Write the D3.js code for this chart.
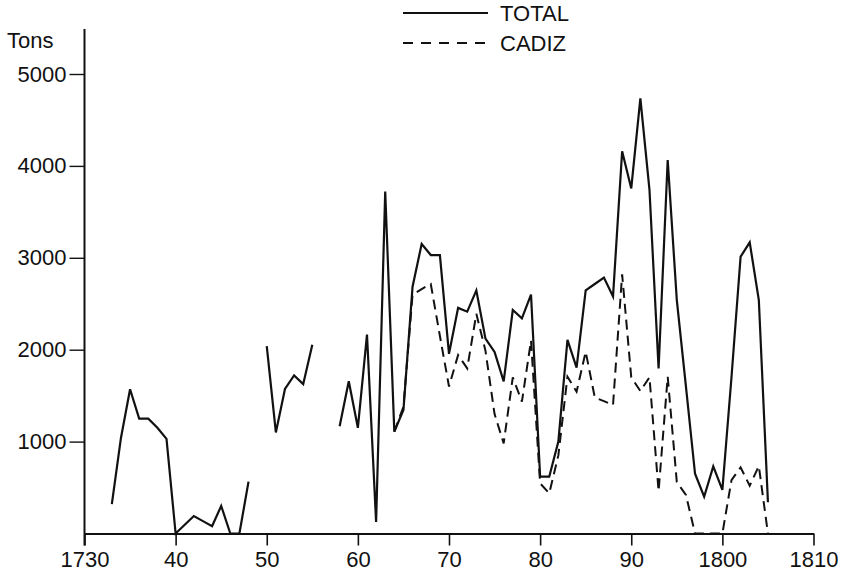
<!DOCTYPE html>
<html>
<head>
<meta charset="utf-8">
<script src="https://cdn.jsdelivr.net/npm/d3@7"></script>
<style>
	html, body { margin: 0; padding: 0; background: #fff; }
	svg text { font-family: 'Liberation Sans', Arial, sans-serif; fill: #111; }
</style>
</head>
<body>
<div id="chart"></div>
<script>
'use strict';

var years = [1733, 1734, 1735, 1736, 1737, 1738, 1739, 1740, 1741, 1742, 1743, 1744, 1745, 1746, 1747, 1748, 1749,
	1750, 1751, 1752, 1753, 1754, 1755, 1756, 1757, 1758, 1759, 1760, 1761, 1762, 1763, 1764, 1765, 1766, 1767, 1768, 1769,
	1770, 1771, 1772, 1773, 1774, 1775, 1776, 1777, 1778, 1779, 1780, 1781, 1782, 1783, 1784, 1785, 1786, 1787, 1788, 1789,
	1790, 1791, 1792, 1793, 1794, 1795, 1796, 1797, 1798, 1799, 1800, 1801, 1802, 1803, 1804, 1805];

// null = no data (gap in the line)
var total = [320, 1040, 1570, 1250, 1250, 1150, 1030, 0, 95, 190, 135, 80, 300, 0, 0, 565, null,
	2040, 1100, 1573, 1720, 1625, 2054, null, null, 1168, 1656, 1150, 2165, 125, 3720, 1108, 1344, 2686, 3150, 3030, 3030,
	1955, 2455, 2414, 2645, 2120, 1975, 1655, 2432, 2342, 2600, 618, 618, 1000, 2106, 1805, 2645, 2715, 2785, 2580, 4160,
	3755, 4735, 3740, 1795, 4064, 2540, 1600, 650, 400, 730, 475, 1700, 3012, 3168, 2540, 340];

var cadizYears = [1764, 1765, 1766, 1767, 1768, 1769, 1770, 1771, 1772, 1773, 1774, 1775, 1776, 1777, 1778, 1779,
	1780, 1781, 1782, 1783, 1784, 1785, 1786, 1787, 1788, 1789, 1790, 1791, 1792, 1793, 1794, 1795, 1796, 1797, 1798, 1799,
	1800, 1801, 1802, 1803, 1804, 1805];

var cadiz = [1108, 1380, 2600, 2660, 2715, 2150, 1600, 1942, 1797, 2390, 1990, 1300, 981, 1700, 1434, 2100,
	546, 437, 850, 1706, 1543, 1978, 1480, 1440, 1398, 2820, 1700, 1550, 1700, 460, 1706, 560, 420, 0, 0, 0,
	0, 580, 720, 520, 735, 0];

var xTicks = [1730, 1740, 1750, 1760, 1770, 1780, 1790, 1800, 1810];
var xTickLabels = ['1730', '40', '50', '60', '70', '80', '90', '1800', '1810'];
var yTicks = [1000, 2000, 3000, 4000, 5000];

var legendItems = ['TOTAL', 'CADIZ'];

var width = 846;
var height = 583;

var svg = d3.select('#chart').append('svg')
	.attr('width', width)
	.attr('height', height);

var x = d3.scaleLinear().domain([1730, 1810]).range([84.5, 813.5]);
var y = d3.scaleLinear().domain([0, 5000]).range([533.5, 74]);

// axes
var xAxis = svg.append('g')
	.attr('transform', 'translate(0,' + y(0) + ')')
	.call(d3.axisBottom(x)
		.tickValues(xTicks)
		.tickFormat(function(d, i){ return xTickLabels[i]; })
		.tickSize(12)
		.tickPadding(6)
		.tickSizeOuter(0));

xAxis.select('.domain').attr('stroke', '#111').attr('stroke-width', 2.2);
xAxis.selectAll('.tick line').attr('stroke', '#111').attr('stroke-width', 1.6);
xAxis.selectAll('.tick text').attr('font-size', 22).style('fill', '#111');

var yAxis = svg.append('g')
	.attr('transform', 'translate(' + x(1730) + ',0)')
	.call(d3.axisLeft(y)
		.tickValues(yTicks)
		.tickFormat(d3.format('d'))
		.tickSize(15)
		.tickPadding(3)
		.tickSizeOuter(0));

yAxis.select('.domain').remove();
yAxis.selectAll('.tick line').attr('stroke', '#111').attr('stroke-width', 1.4);
yAxis.selectAll('.tick text').attr('font-size', 22).style('fill', '#111');

svg.append('path')
	.attr('stroke', '#111')
	.attr('stroke-width', 2)
	.attr('d', d3.line()([[x(1730), 29], [x(1730), y(0) + 12]]));

svg.append('text')
	.attr('x', 7)
	.attr('y', 48)
	.attr('font-size', 22)
	.text('Tons');

// series
var line = d3.line()
	.defined(function(d){ return d[1] !== null; })
	.x(function(d){ return x(d[0]); })
	.y(function(d){ return y(d[1]); });

svg.append('path')
	.datum(years.map(function(yr, i){ return [yr, total[i]]; }))
	.attr('fill', 'none')
	.attr('stroke', '#111')
	.attr('stroke-width', 2.2)
	.attr('stroke-linejoin', 'miter')
	.attr('d', line);

svg.append('path')
	.datum(cadizYears.map(function(yr, i){ return [yr, cadiz[i]]; }))
	.attr('fill', 'none')
	.attr('stroke', '#111')
	.attr('stroke-width', 2)
	.attr('stroke-dasharray', '10,6')
	.attr('d', line);

// legend
var legend = svg.append('g').attr('class', 'legend');

legendItems.forEach(function(name, i){
	var ly = 13 + i * 30;
	legend.append('path')
		.attr('stroke', '#111')
		.attr('stroke-width', 2)
		.attr('stroke-dasharray', i === 1 ? '10,8' : null)
		.attr('d', d3.line()([[403, ly], [488, ly]]));
	legend.append('text')
		.attr('x', 500)
		.attr('y', ly + 8)
		.attr('font-size', 22)
		.text(name);
});
</script>
</body>
</html>
